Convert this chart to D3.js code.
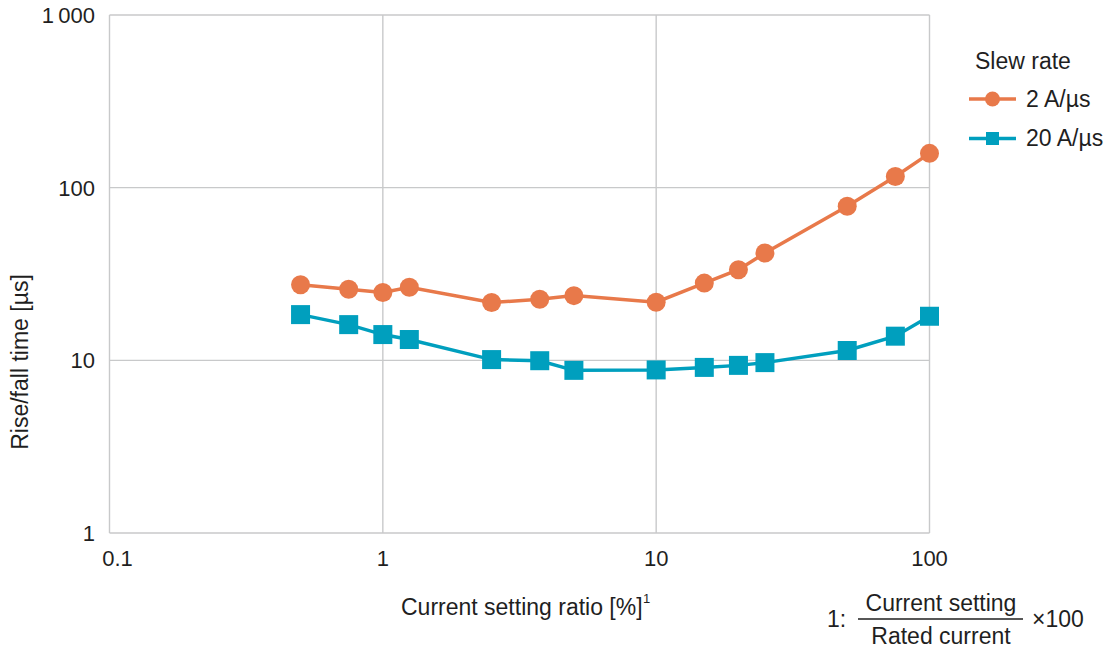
<!DOCTYPE html>
<html>
<head>
<meta charset="utf-8">
<script src="https://cdn.jsdelivr.net/npm/d3@7"></script>
<style>
  html, body { margin: 0; padding: 0; background: #fff; }
  svg { display: block; font-family: "Liberation Sans", Arial, sans-serif; }
</style>
</head>
<body>
<svg id="chart" width="1107" height="648"></svg>
<script>
const ratios = [0.5, 0.75, 1, 1.25, 2.5, 3.75, 5, 10, 15, 20, 25, 50, 75, 100];
const slow = [27.4, 25.8, 24.7, 26.5, 21.6, 22.6, 23.7, 21.7, 28.0, 33.5, 41.8, 78, 116, 158];
const fast = [18.4, 16.1, 14.1, 13.2, 10.1, 9.95, 8.75, 8.8, 9.1, 9.35, 9.7, 11.4, 13.8, 18.0];
const seriesNames = ["2 A/\u00b5s", "20 A/\u00b5s"];
const xTicks = [0.1, 1, 10, 100];
const xTickLabels = ["0.1", "1", "10", "100"];
const yTicks = [1, 10, 100, 1000];
const yTickLabels = ["1", "10", "100", "1\u2009000"];

const ORANGE = "#E8794A", BLUE = "#009FBE", GRID = "#c8c9ca", TEXT = "#1f1f1f";
const svg = d3.select("#chart");
const x = d3.scaleLog().domain([0.1, 100]).range([109.5, 929.5]);
const y = d3.scaleLog().domain([1, 1000]).range([533, 15]);

// gridlines
const g = svg.append("g");
g.selectAll(".vg").data(xTicks).join("line")
  .attr("x1", d => x(d)).attr("x2", d => x(d)).attr("y1", y(1000)).attr("y2", y(1))
  .attr("stroke", GRID).attr("stroke-width", 1.4);
g.selectAll(".hg").data(yTicks).join("line")
  .attr("y1", d => y(d)).attr("y2", d => y(d)).attr("x1", x(0.1)).attr("x2", x(100))
  .attr("stroke", GRID).attr("stroke-width", 1.4);

// tick labels
svg.append("g").selectAll("text").data(yTicks).join("text")
  .attr("x", 95).attr("y", d => y(d) + 8)
  .attr("text-anchor", "end").attr("font-size", 22).attr("fill", TEXT)
  .text((d, i) => yTickLabels[i]);
svg.append("g").selectAll("text").data(xTicks).join("text")
  .attr("x", (d, i) => x(d) + (i === 0 ? 8 : 0)).attr("y", 566)
  .attr("text-anchor", "middle").attr("font-size", 22).attr("fill", TEXT)
  .text((d, i) => xTickLabels[i]);

// axis titles
const xt = svg.append("text").attr("x", 401).attr("y", 615)
  .attr("font-size", 23).attr("fill", TEXT);
xt.append("tspan").text("Current setting ratio [%]");
xt.append("tspan").attr("dx", 0.5).attr("dy", -12).attr("font-size", 13).text("1");
svg.append("text").attr("transform", "translate(28,362) rotate(-90)")
  .attr("text-anchor", "middle").attr("font-size", 23).attr("fill", TEXT)
  .text("Rise/fall time [\u00b5s]");

// series
const line = d3.line().x(d => x(d[0])).y(d => y(d[1]));
const dSlow = ratios.map((r, i) => [r, slow[i]]);
const dFast = ratios.map((r, i) => [r, fast[i]]);
svg.append("path").datum(dSlow).attr("d", line).attr("fill", "none")
  .attr("stroke", ORANGE).attr("stroke-width", 3.5);
svg.append("g").selectAll("circle").data(dSlow).join("circle")
  .attr("cx", d => x(d[0])).attr("cy", d => y(d[1])).attr("r", 9.5).attr("fill", ORANGE);
svg.append("path").datum(dFast).attr("d", line).attr("fill", "none")
  .attr("stroke", BLUE).attr("stroke-width", 3.5);
svg.append("g").selectAll("rect").data(dFast).join("rect")
  .attr("x", d => x(d[0]) - 9.5).attr("y", d => y(d[1]) - 9.5)
  .attr("width", 19).attr("height", 19).attr("fill", BLUE);

// legend
const lg = svg.append("g");
lg.append("text").attr("x", 975).attr("y", 69).attr("font-size", 23).attr("fill", TEXT).text("Slew rate");
const items = [{c: ORANGE, s: "circle", ly: 99}, {c: BLUE, s: "square", ly: 138.5}];
items.forEach((it, i) => {
  lg.append("line").attr("x1", 969).attr("x2", 1016).attr("y1", it.ly).attr("y2", it.ly)
    .attr("stroke", it.c).attr("stroke-width", 3.5);
  if (it.s === "circle") lg.append("circle").attr("cx", 992.5).attr("cy", it.ly).attr("r", 7.5).attr("fill", it.c);
  else lg.append("rect").attr("x", 986).attr("y", it.ly - 6.5).attr("width", 13).attr("height", 13).attr("fill", it.c);
  lg.append("text").attr("x", 1026).attr("y", it.ly + 7.5).attr("font-size", 23).attr("fill", TEXT).text(seriesNames[i]);
});

// footnote
const fn = svg.append("g").attr("fill", TEXT).attr("font-size", 23);
fn.append("text").attr("x", 827).attr("y", 627).text("1:");
fn.append("text").attr("x", 941).attr("y", 611).attr("text-anchor", "middle").text("Current setting");
fn.append("line").attr("x1", 858).attr("x2", 1023).attr("y1", 619).attr("y2", 619).attr("stroke", TEXT).attr("stroke-width", 1.3);
fn.append("text").attr("x", 941).attr("y", 644).attr("text-anchor", "middle").text("Rated current");
fn.append("text").attr("x", 1032).attr("y", 627).text("\u00d7100");
</script>
</body>
</html>
